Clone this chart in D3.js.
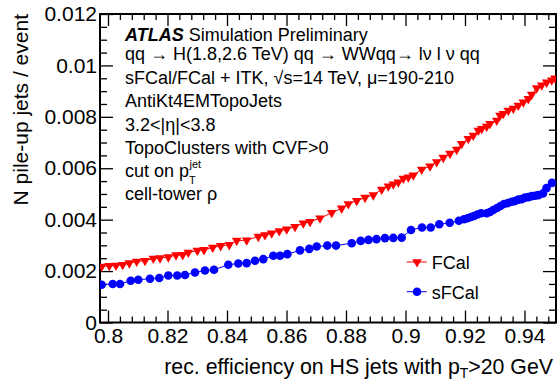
<!DOCTYPE html>
<html><head><meta charset="utf-8">
<script src="https://cdn.jsdelivr.net/npm/d3@7/dist/d3.min.js"></script>
<style>
body{margin:0;background:#fff;}
svg text{font-family:"Liberation Sans",Arial,Helvetica,sans-serif;fill:#000;}
</style></head>
<body><svg id="c" width="557" height="381"></svg>
<script>
// ---- data ----
const fcalX = [0.79788,0.80044,0.80269,0.80494,0.80716,0.80965,0.81244,0.81523,0.81748,0.82027,0.82286,0.82511,0.82699,0.83002,0.83227,0.83519,0.83788,0.84077,0.84326,0.84662,0.85052,0.85277,0.85503,0.85758,0.86007,0.86286,0.86565,0.8679,0.87126,0.87519,0.87855,0.88077,0.8836,0.88639,0.88918,0.892,0.89422,0.8959,0.89758,0.89926,0.90094,0.90262,0.90545,0.90824,0.91049,0.91271,0.91496,0.91721,0.91889,0.92111,0.92279,0.92447,0.92561,0.92729,0.9284,0.93066,0.93176,0.93287,0.93455,0.93624,0.93792,0.9396,0.94128,0.94242,0.9441,0.94578,0.94746,0.94914,0.95025];
const fcalY = [0.002179,0.002206,0.002218,0.002245,0.002311,0.002373,0.0024,0.002489,0.002505,0.002543,0.002621,0.002632,0.002721,0.002799,0.002826,0.002915,0.002981,0.003019,0.003186,0.003201,0.003341,0.003406,0.003472,0.003561,0.003627,0.003728,0.003859,0.003921,0.004053,0.00427,0.00444,0.004607,0.004734,0.004858,0.004955,0.005176,0.005303,0.005381,0.005458,0.005601,0.005652,0.005729,0.00595,0.006077,0.006244,0.006414,0.006569,0.006724,0.006956,0.00715,0.007277,0.007471,0.007537,0.007626,0.00773,0.007858,0.008052,0.008118,0.008245,0.008323,0.008439,0.008567,0.008698,0.008865,0.009116,0.009232,0.009341,0.009426,0.009503];
const sfcalX = [0.79788,0.80158,0.80403,0.80763,0.81018,0.81412,0.81724,0.82027,0.82329,0.82588,0.82924,0.8326,0.83563,0.84044,0.8438,0.84662,0.84941,0.8522,0.85556,0.85782,0.86027,0.86454,0.86766,0.87015,0.87371,0.87664,0.88192,0.88494,0.88756,0.89025,0.89311,0.8959,0.89872,0.90185,0.90555,0.90847,0.91136,0.91486,0.91792,0.91966,0.92084,0.92202,0.92303,0.9242,0.92538,0.92729,0.9284,0.92951,0.93076,0.93193,0.93311,0.93445,0.9357,0.93681,0.93792,0.93906,0.94017,0.94128,0.94242,0.94353,0.94464,0.94622,0.9474,0.94924];
const sfcalY = [0.001471,0.001498,0.001498,0.001626,0.001665,0.001703,0.00173,0.001831,0.001831,0.001846,0.001947,0.002025,0.002052,0.002245,0.002296,0.002311,0.0024,0.002466,0.002594,0.002594,0.002659,0.002806,0.002865,0.002954,0.002992,0.002992,0.003085,0.003174,0.003213,0.003244,0.003283,0.00329,0.003302,0.0036,0.003697,0.003697,0.003821,0.003883,0.00396,0.004014,0.004053,0.004103,0.004142,0.0042,0.004247,0.004247,0.004297,0.004374,0.004452,0.004529,0.004607,0.004645,0.004696,0.004723,0.004781,0.0048,0.004858,0.004877,0.004916,0.004928,0.004955,0.005021,0.005226,0.005431];
const xTicks = [0.8,0.82,0.84,0.86,0.88,0.9,0.92,0.94];
const xTickLabels = ["0.8","0.82","0.84","0.86","0.88","0.9","0.92","0.94"];
const yTicks = [0,0.002,0.004,0.006,0.008,0.01,0.012];
const yTickLabels = ["0","0.002","0.004","0.006","0.008","0.01","0.012"];
const seriesNames = ["FCal","sFCal"];
const infoLines = ["Simulation Preliminary","qq \u2192 H(1.8,2.6 TeV) qq \u2192 WWqq\u2192 l\u03bd l \u03bd qq","sFCal/FCal + ITK, \u221as=14 TeV, \u03bc=190-210","AntiKt4EMTopoJets","3.2<|\u03b7|<3.8","TopoClusters with CVF>0","cut on p","cell-tower \u03c1"];

// ---- layout ----
const L=100,R=556,T=14,B=322.5;
const svg=d3.select("#c");
const x=d3.scaleLinear().domain([0.79731,0.95059]).range([L,R]);
const y=d3.scaleLinear().domain([0,0.012]).range([B,T]);

const xMinor=d3.range(0,40).map(i=>+(0.796+i*0.004).toFixed(4)).filter(v=>v>=x.domain()[0]&&v<=x.domain()[1]&&!xTicks.some(t=>Math.abs(t-v)<1e-6));
const yMinor=d3.range(0,25).map(i=>+(i*0.0005).toFixed(4)).filter(v=>!yTicks.some(t=>Math.abs(t-v)<1e-7));

function styleAx(g){g.select(".domain").remove();g.selectAll(".tick line").attr("stroke","#000").attr("stroke-width",1.3);}

// bottom
svg.append("g").attr("transform",`translate(0,${B})`).call(d3.axisBottom(x).tickValues(xTicks).tickFormat((d,i)=>xTickLabels[i]).tickSize(-12).tickPadding(6))
 .call(styleAx).call(g=>g.selectAll("text").attr("font-size",21).attr("font-family","Liberation Sans,Arial,sans-serif"));
svg.append("g").attr("transform",`translate(0,${B})`).call(d3.axisBottom(x).tickValues(xMinor).tickFormat("").tickSize(-6)).call(styleAx);
// top
svg.append("g").attr("transform",`translate(0,${T})`).call(d3.axisTop(x).tickValues(xTicks).tickFormat("").tickSize(-12)).call(styleAx);
svg.append("g").attr("transform",`translate(0,${T})`).call(d3.axisTop(x).tickValues(xMinor).tickFormat("").tickSize(-6)).call(styleAx);
// left
svg.append("g").attr("transform",`translate(${L},0)`).call(d3.axisLeft(y).tickValues(yTicks).tickFormat((d,i)=>yTickLabels[i]).tickSize(-13).tickPadding(3))
 .call(styleAx).call(g=>g.selectAll("text").attr("font-size",21).attr("font-family","Liberation Sans,Arial,sans-serif"));
svg.append("g").attr("transform",`translate(${L},0)`).call(d3.axisLeft(y).tickValues(yMinor).tickFormat("").tickSize(-7)).call(styleAx);
// right
svg.append("g").attr("transform",`translate(${R},0)`).call(d3.axisRight(y).tickValues(yTicks).tickFormat("").tickSize(-13)).call(styleAx);
svg.append("g").attr("transform",`translate(${R},0)`).call(d3.axisRight(y).tickValues(yMinor).tickFormat("").tickSize(-7)).call(styleAx);
// frame
svg.append("rect").attr("x",L).attr("y",T).attr("width",R-L).attr("height",B-T).attr("fill","none").attr("stroke","#000").attr("stroke-width",2);

// axis titles
svg.append("text").attr("transform",`translate(28,${T}) rotate(-90)`).attr("text-anchor","end").attr("font-size",21).text("N pile-up jets / event");
const xt=svg.append("text").attr("x",553).attr("y",374).attr("text-anchor","end").attr("font-size",21.3);
xt.append("tspan").text("rec. efficiency on HS jets with p");
xt.append("tspan").attr("font-size",14).attr("dy",4).text("T");
xt.append("tspan").attr("dy",-4).text(">20 GeV");

// data
svg.append("clipPath").attr("id","clip").append("rect").attr("x",L).attr("y",T).attr("width",R-L).attr("height",B-T);
const plot=svg.append("g").attr("clip-path","url(#clip)");
const fcal=fcalX.map((v,i)=>[v,fcalY[i]]);
const sfcal=sfcalX.map((v,i)=>[v,sfcalY[i]]);
const line=d3.line().x(d=>x(d[0])).y(d=>y(d[1]));
const tri=d3.symbol(d3.symbolTriangle).size(40)();
const circ=d3.symbol(d3.symbolCircle).size(58)();
plot.append("path").attr("d",line(sfcal)).attr("fill","none").attr("stroke","#0000ff").attr("stroke-width",1);
plot.append("path").attr("d",line(fcal)).attr("fill","none").attr("stroke","#ff0000").attr("stroke-width",1);
plot.selectAll(".s").data(sfcal).join("path").attr("d",circ).attr("fill","#0000ff").attr("transform",d=>`translate(${x(d[0])},${y(d[1])})`);
plot.selectAll(".f").data(fcal).join("path").attr("d",tri).attr("fill","#ff0000").attr("transform",d=>`translate(${x(d[0])},${y(d[1])}) rotate(180)`);

// info text
const infoY=[40.7,60,84,106.7,131,154,176.7,200];
const fs=18;
infoLines.forEach((s,i)=>{
  const t=svg.append("text").attr("x",125).attr("y",infoY[i]).attr("font-size",fs);
  if(i===0){t.append("tspan").attr("font-weight","bold").attr("font-style","italic").text("ATLAS");t.append("tspan").text(" "+s);}
  else if(i===6){t.append("tspan").text(s);
    const px=125+t.node().getComputedTextLength();
    svg.append("text").attr("x",px+0.5).attr("y",infoY[i]-8.5).attr("font-size",11).text("jet");
    svg.append("text").attr("x",px).attr("y",infoY[i]+7.5).attr("font-size",11).text("T");}
  else t.text(s);
});

// legend
const leg=[{n:seriesNames[0],c:"#ff0000",s:tri,rot:180,y:262},{n:seriesNames[1],c:"#0000ff",s:circ,rot:0,y:291.7}];
leg.forEach(d=>{
  svg.append("line").attr("x1",406.7).attr("x2",426.7).attr("y1",d.y).attr("y2",d.y).attr("stroke",d.c).attr("stroke-width",1);
  svg.append("path").attr("d",d.s).attr("fill",d.c).attr("transform",`translate(417,${d.y}) rotate(${d.rot})`);
  svg.append("text").attr("x",431.7).attr("y",d.y+6.8).attr("font-size",18).text(d.n);
});
</script></body></html>
